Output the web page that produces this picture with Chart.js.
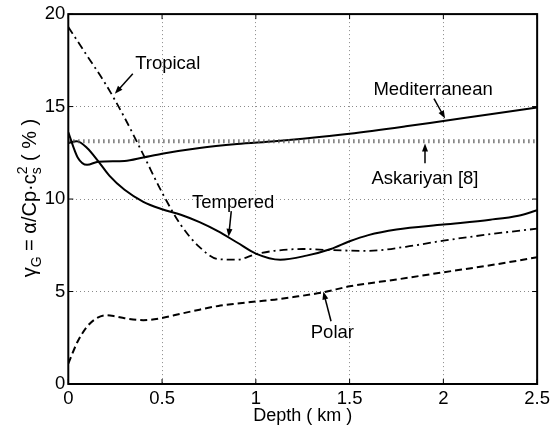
<!DOCTYPE html>
<html>
<head>
<meta charset="utf-8">
<script src="https://cdn.jsdelivr.net/npm/chart.js@4/dist/chart.umd.min.js"></script>
<style>
  html, body { margin: 0; padding: 0; background: #fff; }
  #wrap { width: 554px; height: 430px; }
</style>
</head>
<body>
<div id="wrap"><canvas id="c" width="554" height="430"></canvas></div>
<script>
// Axis ticks
const depthTicks = [0, 0.5, 1, 1.5, 2, 2.5];
const gammaTicks = [0, 5, 10, 15, 20];

// Gruneisen parameter (%) versus depth (km) for each water type
const tropicalDepth = [0, 0.1, 0.2, 0.3, 0.4, 0.5, 0.6, 0.7, 0.8, 0.9, 1.0, 1.1, 1.25, 1.4, 1.6, 1.8, 2.0, 2.25, 2.5];
const tropicalGamma = [19.3, 17.75, 16.2, 14.4, 12.4, 10.35, 8.6, 7.4, 6.75, 6.72, 7.02, 7.2, 7.3, 7.24, 7.2, 7.42, 7.75, 8.1, 8.4];

const medDepth = [0, 0.05, 0.1, 0.16, 0.3, 0.4, 0.5, 0.7, 0.9, 1.1, 1.25, 1.5, 1.8, 2.0, 2.25, 2.5];
const medGamma = [13.6, 12.25, 11.85, 12.02, 12.06, 12.25, 12.45, 12.76, 12.97, 13.12, 13.26, 13.53, 13.93, 14.22, 14.58, 14.95];

const temperedDepth = [0, 0.045, 0.1, 0.16, 0.22, 0.3, 0.4, 0.5, 0.6, 0.7, 0.8, 0.9, 1.0, 1.13, 1.27, 1.4, 1.5, 1.6, 1.75, 2.0, 2.25, 2.4, 2.5];
const temperedGamma = [13.03, 13.12, 12.76, 12.04, 11.25, 10.5, 9.85, 9.45, 9.15, 8.75, 8.25, 7.65, 7.05, 6.72, 6.94, 7.3, 7.72, 8.05, 8.35, 8.62, 8.88, 9.1, 9.39];

const polarDepth = [0, 0.05, 0.1, 0.15, 0.2, 0.25, 0.3, 0.4, 0.5, 0.6, 0.7, 0.8, 0.9, 1.0, 1.1, 1.2, 1.36, 1.5, 1.75, 2.0, 2.25, 2.5];
const polarGamma = [1.1, 2.3, 3.1, 3.55, 3.72, 3.66, 3.56, 3.45, 3.57, 3.8, 4.02, 4.22, 4.35, 4.46, 4.56, 4.7, 4.96, 5.28, 5.65, 6.04, 6.42, 6.85];

// Constant reference value from Askariyan [8]
const askariyanDepth = [0, 2.5];
const askariyanGamma = [13.12, 13.12];

const FONT = '"Liberation Sans", Arial, Helvetica, sans-serif';

function pts(xs, ys) { return xs.map((x, i) => ({ x: x, y: ys[i] })); }

// Labels with arrows, placed in data units (text baseline position, arrow tail, arrow head)
const callouts = [
  { text: 'Tropical',      tx: 0.53,  ty: 17.04, ax0: 0.344, ay0: 16.77, ax1: 0.248, ay1: 15.70 },
  { text: 'Mediterranean', tx: 1.945, ty: 15.65, ax0: 1.95,  ay0: 15.43, ax1: 2.009, ay1: 14.35 },
  { text: 'Askariyan [8]', tx: 1.902, ty: 10.81, ax0: 1.902, ay0: 11.94, ax1: 1.902, ay1: 13.01 },
  { text: 'Tempered',      tx: 0.879, ty: 9.52,  ax0: 0.869, ay0: 9.35,  ax1: 0.855, ay1: 7.96 },
  { text: 'Polar',         tx: 1.408, ty: 2.47,  ax0: 1.401, ay0: 3.39,  ax1: 1.36,  ay1: 5.0 }
];

const framePlugin = {
  id: 'frame',
  afterDatasetsDraw(chart) {
    const { ctx, chartArea: a, scales: { x, y } } = chart;
    ctx.save();
    // inward tick marks on all four sides
    ctx.strokeStyle = '#000';
    ctx.lineWidth = 1;
    const tl = 5;
    depthTicks.forEach(v => {
      const px = x.getPixelForValue(v);
      ctx.beginPath();
      ctx.moveTo(px, a.bottom); ctx.lineTo(px, a.bottom - tl);
      ctx.moveTo(px, a.top); ctx.lineTo(px, a.top + tl);
      ctx.stroke();
    });
    gammaTicks.forEach(v => {
      const py = y.getPixelForValue(v);
      ctx.beginPath();
      ctx.moveTo(a.left, py); ctx.lineTo(a.left + tl, py);
      ctx.moveTo(a.right, py); ctx.lineTo(a.right - tl, py);
      ctx.stroke();
    });
    // axes box
    ctx.lineWidth = 2;
    ctx.strokeRect(a.left, a.top, a.right - a.left, a.bottom - a.top);

    // callouts
    ctx.fillStyle = '#000';
    ctx.font = '18.5px ' + FONT;
    ctx.textAlign = 'center';
    ctx.textBaseline = 'alphabetic';
    callouts.forEach(c => {
      ctx.fillText(c.text, x.getPixelForValue(c.tx), y.getPixelForValue(c.ty));
      const x0 = x.getPixelForValue(c.ax0), y0 = y.getPixelForValue(c.ay0);
      const x1 = x.getPixelForValue(c.ax1), y1 = y.getPixelForValue(c.ay1);
      const ang = Math.atan2(y1 - y0, x1 - x0);
      const hl = 8, hw = 3;
      ctx.lineWidth = 1.5;
      ctx.beginPath();
      ctx.moveTo(x0, y0);
      ctx.lineTo(x1 - Math.cos(ang) * hl * 0.8, y1 - Math.sin(ang) * hl * 0.8);
      ctx.stroke();
      ctx.beginPath();
      ctx.moveTo(x1, y1);
      ctx.lineTo(x1 - Math.cos(ang) * hl + Math.sin(ang) * hw, y1 - Math.sin(ang) * hl - Math.cos(ang) * hw);
      ctx.lineTo(x1 - Math.cos(ang) * hl - Math.sin(ang) * hw, y1 - Math.sin(ang) * hl + Math.cos(ang) * hw);
      ctx.closePath();
      ctx.fill();
    });

    // rotated y-axis title with sub- and superscripts
    const big = '20px ' + FONT, small = '14px ' + FONT;
    const parts = [
      { t: '\u03B3', f: big, dy: 0 },
      { t: 'G', f: small, dy: 5 },
      { t: ' = \u03B1/Cp\u00B7c', f: big, dy: 0 },
      { stack: [{ t: '2', dy: -9 }, { t: 's', dy: 5 }], f: small },
      { t: ' ( % )', f: big, dy: 0 }
    ];
    let total = 0;
    parts.forEach(p => {
      ctx.font = p.f;
      p.w = p.stack ? Math.max(...p.stack.map(s => ctx.measureText(s.t).width)) : ctx.measureText(p.t).width;
      total += p.w;
    });
    const cx = 36, cy = (a.top + a.bottom) / 2 - 1;
    ctx.translate(cx, cy);
    ctx.rotate(-Math.PI / 2);
    ctx.textAlign = 'left';
    let pos = -total / 2;
    parts.forEach(p => {
      ctx.font = p.f;
      if (p.stack) {
        p.stack.forEach(s => ctx.fillText(s.t, pos, s.dy));
      } else {
        ctx.fillText(p.t, pos, p.dy);
      }
      pos += p.w;
    });
    ctx.restore();
  }
};

const ctx = document.getElementById('c').getContext('2d');
new Chart(ctx, {
  type: 'line',
  data: {
    datasets: [
      { label: 'Askariyan [8]', data: pts(askariyanDepth, askariyanGamma), borderColor: '#555', borderWidth: 4, borderDash: [1.2, 3.8], borderCapStyle: 'butt' },
      { label: 'Tropical', data: pts(tropicalDepth, tropicalGamma), borderColor: '#000', borderWidth: 1.8, borderDash: [8, 4, 2, 4] },
      { label: 'Mediterranean', data: pts(medDepth, medGamma), borderColor: '#000', borderWidth: 2 },
      { label: 'Tempered', data: pts(temperedDepth, temperedGamma), borderColor: '#000', borderWidth: 2 },
      { label: 'Polar', data: pts(polarDepth, polarGamma), borderColor: '#000', borderWidth: 2, borderDash: [7, 4] }
    ]
  },
  options: {
    responsive: false,
    animation: false,
    parsing: true,
    layout: { padding: { left: 0, right: 15, top: 12.5, bottom: 0 } },
    elements: {
      point: { radius: 0, hoverRadius: 0 },
      line: { cubicInterpolationMode: 'monotone', fill: false }
    },
    plugins: { legend: { display: false }, tooltip: { enabled: false } },
    scales: {
      x: {
        type: 'linear', position: 'bottom', min: 0, max: 2.5,
        afterBuildTicks: s => { s.ticks = depthTicks.map(v => ({ value: v })); },
        afterFit: s => { s.height = 46; },
        ticks: { color: '#000', font: { family: FONT, size: 18.5 }, padding: 4, maxRotation: 0, callback: v => String(v) },
        grid: { color: '#8a8a8a', lineWidth: 1, drawTicks: false },
        border: { display: false, dash: [1, 3] },
        title: { display: true, text: 'Depth ( km )', color: '#000', font: { family: FONT, size: 18 }, padding: { top: 0, bottom: 3 } }
      },
      y: {
        type: 'linear', min: 0, max: 20,
        afterBuildTicks: s => { s.ticks = gammaTicks.map(v => ({ value: v })); },
        afterFit: s => { s.width = 68.3; },
        ticks: { color: '#000', font: { family: FONT, size: 18.5 }, padding: 3, callback: v => String(v) },
        grid: { color: '#8a8a8a', lineWidth: 1, drawTicks: false },
        border: { display: false, dash: [1, 3] }
      }
    }
  },
  plugins: [framePlugin]
});
</script>
</body>
</html>
